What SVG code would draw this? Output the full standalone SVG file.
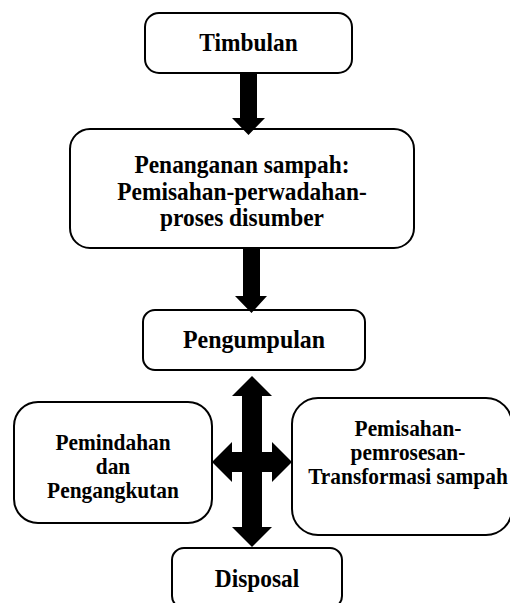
<svg xmlns="http://www.w3.org/2000/svg" width="510" height="603" viewBox="0 0 510 603">
<style>
.box{fill:#fff;stroke:#000;stroke-width:2}
.t{font-family:"Liberation Serif","Times New Roman",serif;font-weight:bold;text-anchor:middle;fill:#000}
.big{font-size:26px}
.sm{font-size:23px}
.arr{fill:#000;stroke:none}
</style>
<rect width="510" height="603" fill="#fff"/>
<g id="timbulan">
<rect class="box" x="145" y="13" width="207" height="60" rx="14"/>
<text class="t big" transform="translate(248.5,51) scale(0.9,1)">Timbulan</text>
</g>
<g id="penanganan">
<rect class="box" x="70" y="129" width="344" height="119" rx="20"/>
<text class="t big" transform="translate(242,173) scale(0.9,1)">Penanganan sampah:</text>
<text class="t big" transform="translate(242,200) scale(0.9,1)">Pemisahan-perwadahan-</text>
<text class="t big" transform="translate(242,226) scale(0.9,1)">proses disumber</text>
</g>
<g id="pengumpulan">
<rect class="box" x="143" y="310" width="222" height="60" rx="12"/>
<text class="t big" transform="translate(254,348) scale(0.92,1)">Pengumpulan</text>
</g>
<g id="pemindahan">
<rect class="box" x="14" y="402" width="198" height="121" rx="24"/>
<text class="t sm" transform="translate(113,450) scale(0.93,1)">Pemindahan</text>
<text class="t sm" transform="translate(113,474) scale(0.93,1)">dan</text>
<text class="t sm" transform="translate(113,498) scale(0.93,1)">Pengangkutan</text>
</g>
<g id="pemisahan">
<rect class="box" x="292" y="398" width="220" height="137" rx="26"/>
<text class="t sm" transform="translate(408,436) scale(0.93,1)">Pemisahan-</text>
<text class="t sm" transform="translate(408,460) scale(0.93,1)">pemrosesan-</text>
<text class="t sm" transform="translate(408,484) scale(0.93,1)">Transformasi sampah</text>
</g>
<g id="disposal">
<rect class="box" x="172" y="548" width="170" height="60" rx="12"/>
<text class="t big" transform="translate(257,587) scale(0.9,1)">Disposal</text>
</g>
<g id="connectors">
<polygon class="arr" points="240,73 257,73 257,118 265,118 248.5,135 232,118 240,118"/>
<polygon class="arr" points="243,248 260,248 260,296 267,296 251.5,313 235,296 243,296"/>
<polygon class="arr" points="252,376 272,396 262,396 262,452 272,452 272,442 292,462 272,482 272,472 262,472 262,527 272,527 252,547 232,527 242,527 242,472 232,472 232,482 212,462 232,442 232,452 242,452 242,396 232,396"/>
</g>
</svg>
